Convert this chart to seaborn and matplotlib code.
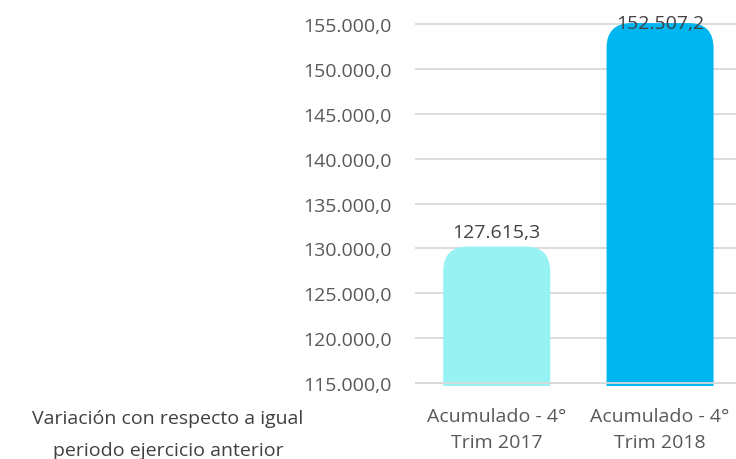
import matplotlib
matplotlib.use("Agg")
import matplotlib.pyplot as plt
import seaborn as sns
import pandas as pd
from matplotlib.patches import FancyBboxPatch
from matplotlib.patches import BoxStyle

# Data
categories = ["Acumulado - 4°\nTrim 2017", "Acumulado - 4°\nTrim 2018"]
values = [127615.3, 152507.2]
bar_colors = ["#97F3F3", "#00B6F1"]
y_ticks = [115000, 120000, 125000, 130000, 135000, 140000, 145000, 150000, 155000]
note = "Variación con respecto a igual\nperiodo ejercicio anterior"


def fmt_es(v):
    # 127615.3 -> 127.615,3
    return f"{v:,.1f}".replace(",", "X").replace(".", ",").replace("X", ".")


df = pd.DataFrame({"periodo": categories, "valor": values})

sns.set_style("white")
plt.rcParams["font.family"] = ["Open Sans", "DejaVu Sans"]
FS = 14

fig = plt.figure(figsize=(7.36, 4.6), dpi=100)
ax = fig.add_axes([0.5639, 0.1587, 0.4361, 0.7978])

sns.barplot(data=df, x="periodo", y="valor", hue="periodo", palette=bar_colors,
            width=0.655, saturation=1, legend=False, ax=ax)

ax.set_ylim(114670, 155560)
ax.set_xlim(-0.5, 1.465)
ax.set_yticks(y_ticks)
ax.set_yticklabels([fmt_es(t) for t in y_ticks])
ax.set_xlabel("")
ax.set_ylabel("")
for s in ax.spines.values():
    s.set_visible(False)
ax.tick_params(axis="y", length=0, pad=17, labelsize=FS, labelcolor="#595959")
ax.tick_params(axis="x", length=0, pad=15, labelsize=FS, labelcolor="#595959")
for lbl in ax.get_xticklabels():
    lbl.set_linespacing(1.55)
ax.yaxis.grid(True, color="#D9D9D9", lw=1.3)
ax.set_axisbelow(True)

# replace flat bars with bars that have a rounded cap on top
fig.canvas.draw()
inv = ax.transData.inverted()
p0 = inv.transform((0, 0))
p1 = inv.transform((1, 1))
x_per_px = p1[0] - p0[0]
y_per_px = p1[1] - p0[1]
aspect = y_per_px / x_per_px
radius = 25 * x_per_px
cap = 2600
base = ax.get_ylim()[0] - 6000

for patch, val in zip(list(ax.patches), values):
    x, w = patch.get_x(), patch.get_width()
    color = patch.get_facecolor()
    patch.remove()
    rb = FancyBboxPatch((x, base), w, val + cap - base,
                        boxstyle=BoxStyle.Round(pad=0, rounding_size=radius),
                        mutation_aspect=aspect, fc=color, ec="none", zorder=2)
    ax.add_patch(rb)
    top = val + cap
    if top + 2500 < ax.get_ylim()[1]:
        ax.annotate(fmt_es(val), (x + w / 2, top), xytext=(0, 4), textcoords="offset points",
                    ha="center", va="bottom", fontsize=FS, color="#404040")
    else:
        ax.annotate(fmt_es(val), (x + w / 2, ax.get_ylim()[1]), xytext=(0, -3),
                    textcoords="offset points", ha="center", va="center",
                    fontsize=FS, color="#404040", annotation_clip=False)

ax.axhline(y_ticks[0], color="#D9D9D9", lw=1.3, zorder=3)

fig.text(168 / 736, 1 - 410 / 460, note, ha="center", va="top", fontsize=FS,
         color="#404040", linespacing=2.0)

fig.savefig("out.png", dpi=100)
